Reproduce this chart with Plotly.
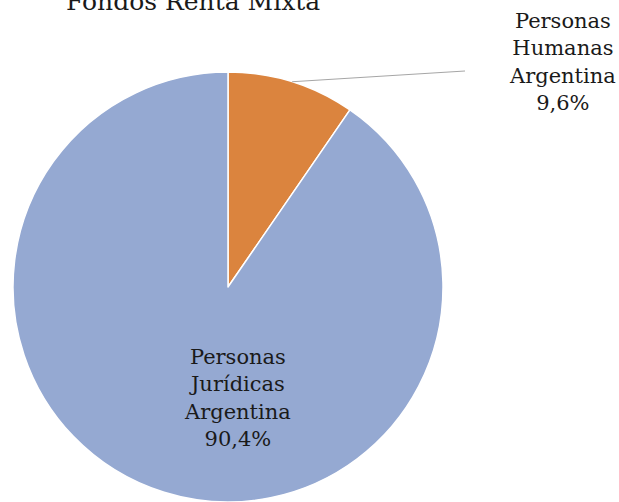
import math
import plotly.graph_objects as go

# Data
categories = ["Personas Humanas Argentina", "Personas Jurídicas Argentina"]
label_lines = [["Personas", "Humanas", "Argentina"], ["Personas", "Jurídicas", "Argentina"]]
shares = [9.6, 90.4]
colors = ["#DB843E", "#95A9D2"]
title_text = "Fondos Renta Mixta"

W, H = 619, 502
font_family = "DejaVu Serif"

# Pie placement in pixels
cx, cy_top, r = 228, 288, 216
dom_x = [(cx - r) / W, (cx + r) / W]
dom_y = [0, (H - cy_top + r) / H]

fig = go.Figure(
    go.Pie(
        labels=categories,
        values=shares,
        sort=False,
        direction="clockwise",
        rotation=0,
        marker=dict(colors=colors, line=dict(color="white", width=1.5)),
        textinfo="none",
        hoverinfo="label+percent",
        domain=dict(x=dom_x, y=dom_y),
        showlegend=False,
    )
)


def fmt(v):
    return f"{v:.1f}".replace(".", ",") + "%"


def px_to_paper(x, y_top):
    return x / W, 1 - y_top / H


# Leader line from the middle of the small slice's rim to its outside label
total = sum(shares)
mid_angle = math.radians(360 * shares[0] / total / 2)
sx = cx + r * math.sin(mid_angle)
sy = cy_top - r * math.cos(mid_angle)
ex, ey = 465, 71
x0, y0 = px_to_paper(sx, sy)
x1, y1 = px_to_paper(ex, ey)
fig.add_shape(type="line", xref="paper", yref="paper", x0=x0, y0=y0, x1=x1, y1=y1,
              line=dict(color="#A6A6A6", width=1))

label_font = dict(family=font_family, size=21, color="#1a1a1a")

# Outside label for the small slice
lx, ly = px_to_paper(562, 62)
fig.add_annotation(x=lx, y=ly, xref="paper", yref="paper", showarrow=False,
                   text="<br>".join(label_lines[0] + [fmt(shares[0])]),
                   font=label_font, align="center", xanchor="center", yanchor="middle")

# Inside label for the large slice
ix, iy = px_to_paper(237, 398)
fig.add_annotation(x=ix, y=iy, xref="paper", yref="paper", showarrow=False,
                   text="<br>".join(label_lines[1] + [fmt(shares[1])]),
                   font=label_font, align="center", xanchor="center", yanchor="middle")

# Title
tx, ty = px_to_paper(193, 1)
fig.add_annotation(x=tx, y=ty, xref="paper", yref="paper", showarrow=False,
                   text=title_text,
                   font=dict(family=font_family, size=25, color="#1a1a1a"),
                   xanchor="center", yanchor="middle")

fig.update_layout(
    width=W, height=H, autosize=False,
    margin=dict(l=0, r=0, t=0, b=0),
    paper_bgcolor="white", plot_bgcolor="white",
)

fig.write_html("out.html")
